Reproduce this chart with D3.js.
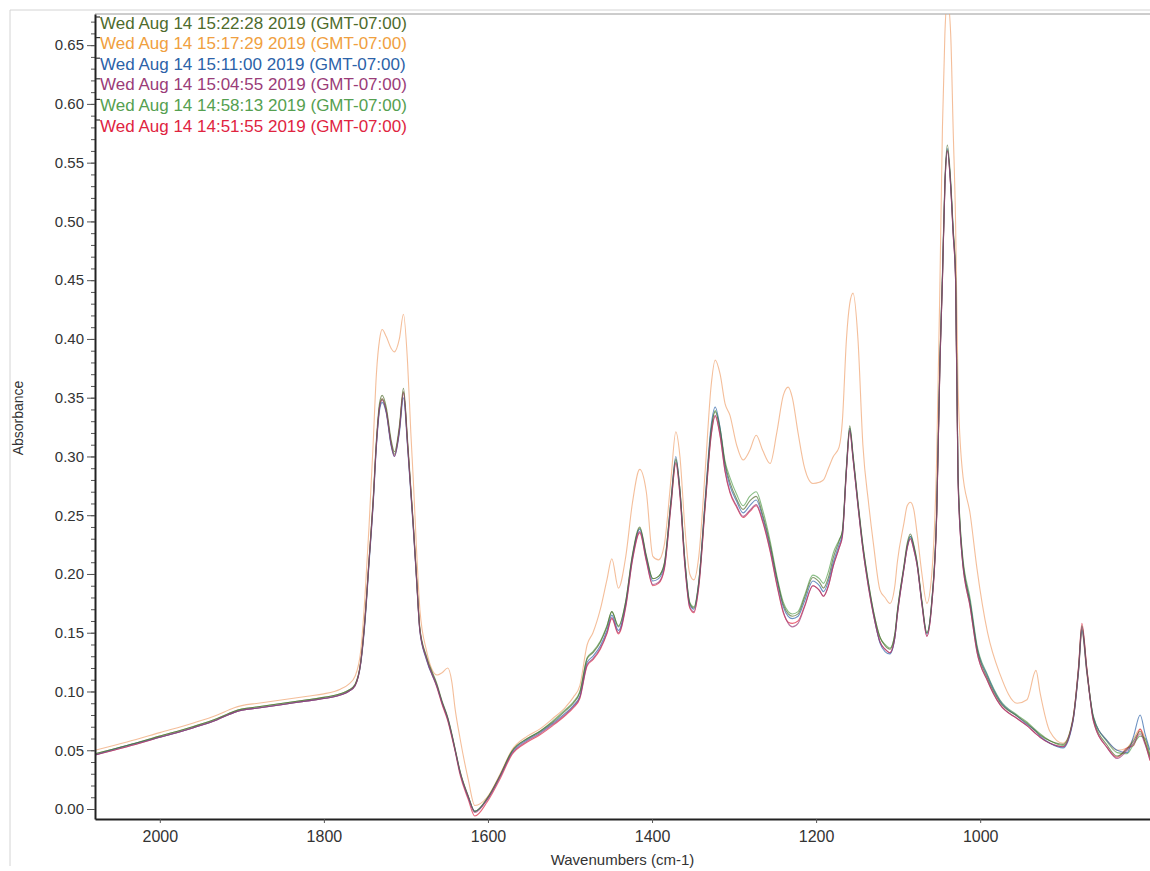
<!DOCTYPE html>
<html>
<head>
<meta charset="utf-8">
<script src="https://cdn.jsdelivr.net/npm/d3@7"></script>
<style>
  body { margin: 0; background: #fff; }
  svg { display: block; }
</style>
</head>
<body>
<div id="chart"></div>
<script>
// wavenumbers (cm-1), shared by every spectrum
const wavenumbers = [
  2079, 2040, 2000, 1960, 1930, 1910, 1900, 1880, 1850, 1820,
  1800, 1780, 1770, 1762, 1755, 1750, 1745, 1740, 1736, 1732,
  1729, 1724, 1718, 1714, 1708, 1703, 1698, 1694, 1691, 1687,
  1683, 1675, 1662, 1656, 1649, 1644, 1640, 1634, 1624, 1616,
  1601, 1585, 1571, 1552, 1537, 1521, 1505, 1496, 1488, 1479,
  1472, 1463, 1455, 1449, 1441, 1432, 1424, 1415, 1407, 1399,
  1392, 1385, 1377, 1371, 1366, 1360, 1354, 1349, 1343, 1335,
  1328, 1323, 1317, 1311, 1305, 1297, 1289, 1281, 1273, 1265,
  1256, 1248, 1240, 1234, 1229, 1222, 1214, 1204, 1196, 1191,
  1185, 1179, 1172, 1168, 1163, 1159, 1155, 1149, 1143, 1136,
  1130, 1122, 1116, 1110, 1104, 1101, 1093, 1089, 1085, 1081,
  1077, 1071, 1065, 1059, 1053, 1049, 1046, 1043, 1040, 1036,
  1033, 1030, 1027, 1022, 1012, 1004, 991, 976, 955, 943,
  932, 927, 915, 899, 887, 880, 876, 870, 862, 845,
  833, 821, 813, 805, 799, 793
];

// absorbance, one array per run
const run152228 = [
  0.047, 0.054, 0.062, 0.070, 0.077, 0.083, 0.085, 0.087, 0.090, 0.093,
  0.095, 0.098, 0.101, 0.106, 0.126, 0.162, 0.212, 0.263, 0.314, 0.346,
  0.352, 0.342, 0.314, 0.304, 0.326, 0.358, 0.314, 0.273, 0.243, 0.197,
  0.154, 0.130, 0.106, 0.092, 0.078, 0.064, 0.051, 0.032, 0.011, -0.002,
  0.009, 0.029, 0.049, 0.060, 0.066, 0.074, 0.084, 0.090, 0.099, 0.128,
  0.133, 0.142, 0.155, 0.168, 0.155, 0.177, 0.216, 0.240, 0.216, 0.196,
  0.198, 0.209, 0.262, 0.298, 0.272, 0.212, 0.175, 0.171, 0.193, 0.263,
  0.322, 0.338, 0.322, 0.294, 0.278, 0.264, 0.255, 0.262, 0.266, 0.250,
  0.225, 0.197, 0.174, 0.166, 0.164, 0.166, 0.180, 0.197, 0.193, 0.188,
  0.197, 0.214, 0.228, 0.237, 0.292, 0.326, 0.302, 0.262, 0.225, 0.192,
  0.168, 0.146, 0.139, 0.136, 0.149, 0.168, 0.207, 0.226, 0.234, 0.225,
  0.211, 0.177, 0.150, 0.177, 0.254, 0.385, 0.455, 0.535, 0.565, 0.535,
  0.495, 0.455, 0.285, 0.218, 0.174, 0.137, 0.111, 0.091, 0.079, 0.073,
  0.066, 0.063, 0.058, 0.055, 0.077, 0.121, 0.156, 0.119, 0.077, 0.054,
  0.045, 0.051, 0.058, 0.066, 0.057, 0.044
];
const run151729 = [
  0.050, 0.057, 0.065, 0.073, 0.080, 0.086, 0.088, 0.090, 0.093, 0.096,
  0.098, 0.102, 0.106, 0.113, 0.135, 0.180, 0.240, 0.310, 0.370, 0.400,
  0.408, 0.402, 0.392, 0.389, 0.400, 0.421, 0.380, 0.320, 0.280, 0.220,
  0.170, 0.135, 0.114, 0.116, 0.120, 0.108, 0.085, 0.060, 0.025, 0.003,
  0.010, 0.030, 0.050, 0.062, 0.068, 0.077, 0.087, 0.095, 0.105, 0.140,
  0.150, 0.170, 0.195, 0.213, 0.188, 0.215, 0.260, 0.289, 0.270, 0.215,
  0.212, 0.225, 0.280, 0.321, 0.300, 0.240, 0.200, 0.195, 0.215, 0.290,
  0.360, 0.382, 0.370, 0.345, 0.335, 0.310, 0.297, 0.305, 0.318, 0.305,
  0.294, 0.320, 0.352, 0.359, 0.350, 0.320, 0.290, 0.277, 0.278, 0.280,
  0.290, 0.300, 0.308, 0.330, 0.400, 0.430, 0.439, 0.400, 0.310, 0.260,
  0.225, 0.186, 0.180, 0.175, 0.190, 0.210, 0.243, 0.258, 0.261, 0.255,
  0.235, 0.200, 0.175, 0.200, 0.300, 0.450, 0.580, 0.660, 0.690, 0.660,
  0.580, 0.500, 0.360, 0.290, 0.250, 0.205, 0.150, 0.115, 0.090, 0.093,
  0.118, 0.099, 0.066, 0.056, 0.075, 0.118, 0.150, 0.115, 0.078, 0.058,
  0.050, 0.052, 0.060, 0.068, 0.060, 0.045
];
const run151100 = [
  0.046, 0.054, 0.061, 0.069, 0.076, 0.082, 0.084, 0.086, 0.089, 0.092,
  0.094, 0.097, 0.100, 0.105, 0.124, 0.158, 0.208, 0.258, 0.308, 0.340,
  0.346, 0.337, 0.309, 0.300, 0.320, 0.350, 0.308, 0.268, 0.238, 0.194,
  0.151, 0.127, 0.104, 0.091, 0.077, 0.063, 0.050, 0.031, 0.010, -0.002,
  0.008, 0.028, 0.048, 0.059, 0.065, 0.073, 0.082, 0.088, 0.096, 0.125,
  0.130, 0.139, 0.152, 0.165, 0.152, 0.175, 0.214, 0.238, 0.214, 0.194,
  0.196, 0.207, 0.262, 0.300, 0.271, 0.211, 0.174, 0.170, 0.193, 0.266,
  0.326, 0.342, 0.324, 0.292, 0.275, 0.262, 0.252, 0.258, 0.263, 0.248,
  0.223, 0.196, 0.172, 0.164, 0.162, 0.164, 0.177, 0.194, 0.190, 0.185,
  0.194, 0.210, 0.225, 0.234, 0.290, 0.324, 0.300, 0.260, 0.223, 0.190,
  0.166, 0.141, 0.134, 0.132, 0.146, 0.166, 0.205, 0.223, 0.232, 0.223,
  0.209, 0.175, 0.149, 0.176, 0.252, 0.382, 0.452, 0.532, 0.562, 0.532,
  0.492, 0.452, 0.282, 0.216, 0.175, 0.138, 0.113, 0.092, 0.079, 0.072,
  0.066, 0.062, 0.056, 0.052, 0.074, 0.118, 0.152, 0.117, 0.078, 0.058,
  0.050, 0.048, 0.062, 0.080, 0.064, 0.050
];
const run150455 = [
  0.046, 0.053, 0.061, 0.069, 0.076, 0.082, 0.084, 0.086, 0.089, 0.092,
  0.094, 0.097, 0.100, 0.105, 0.125, 0.160, 0.210, 0.260, 0.310, 0.342,
  0.348, 0.338, 0.310, 0.300, 0.322, 0.354, 0.310, 0.270, 0.240, 0.195,
  0.152, 0.128, 0.104, 0.090, 0.076, 0.062, 0.050, 0.031, 0.010, -0.003,
  0.008, 0.028, 0.047, 0.058, 0.064, 0.072, 0.081, 0.087, 0.095, 0.123,
  0.128, 0.137, 0.150, 0.163, 0.150, 0.173, 0.212, 0.236, 0.212, 0.191,
  0.193, 0.205, 0.258, 0.295, 0.268, 0.208, 0.172, 0.168, 0.190, 0.260,
  0.318, 0.335, 0.318, 0.288, 0.270, 0.258, 0.249, 0.254, 0.259, 0.245,
  0.220, 0.192, 0.168, 0.158, 0.155, 0.158, 0.172, 0.190, 0.186, 0.181,
  0.190, 0.207, 0.222, 0.232, 0.288, 0.322, 0.298, 0.258, 0.221, 0.188,
  0.165, 0.142, 0.136, 0.133, 0.146, 0.165, 0.204, 0.222, 0.230, 0.221,
  0.208, 0.174, 0.147, 0.174, 0.250, 0.380, 0.450, 0.530, 0.560, 0.530,
  0.490, 0.450, 0.280, 0.214, 0.171, 0.134, 0.109, 0.089, 0.077, 0.071,
  0.064, 0.061, 0.056, 0.053, 0.075, 0.120, 0.155, 0.118, 0.075, 0.052,
  0.043, 0.050, 0.056, 0.064, 0.055, 0.042
];
const run145813 = [
  0.047, 0.054, 0.062, 0.070, 0.077, 0.083, 0.085, 0.087, 0.090, 0.093,
  0.095, 0.098, 0.101, 0.106, 0.125, 0.160, 0.210, 0.261, 0.311, 0.343,
  0.349, 0.339, 0.311, 0.302, 0.323, 0.355, 0.311, 0.271, 0.241, 0.196,
  0.153, 0.129, 0.105, 0.091, 0.077, 0.063, 0.051, 0.032, 0.011, -0.002,
  0.009, 0.029, 0.049, 0.060, 0.066, 0.075, 0.085, 0.091, 0.100, 0.129,
  0.134, 0.143, 0.156, 0.168, 0.156, 0.177, 0.215, 0.239, 0.215, 0.196,
  0.198, 0.209, 0.260, 0.297, 0.271, 0.212, 0.176, 0.172, 0.194, 0.263,
  0.322, 0.339, 0.324, 0.296, 0.282, 0.268, 0.258, 0.266, 0.270, 0.254,
  0.228, 0.199, 0.176, 0.168, 0.166, 0.168, 0.182, 0.199, 0.196, 0.192,
  0.202, 0.218, 0.229, 0.236, 0.290, 0.324, 0.300, 0.260, 0.224, 0.191,
  0.168, 0.146, 0.140, 0.137, 0.149, 0.168, 0.206, 0.224, 0.232, 0.224,
  0.210, 0.176, 0.150, 0.177, 0.253, 0.383, 0.453, 0.532, 0.561, 0.532,
  0.493, 0.454, 0.286, 0.220, 0.178, 0.140, 0.114, 0.093, 0.080, 0.074,
  0.067, 0.064, 0.058, 0.054, 0.075, 0.119, 0.153, 0.117, 0.079, 0.057,
  0.048, 0.047, 0.055, 0.062, 0.060, 0.046
];
const run145155 = [
  0.046, 0.053, 0.061, 0.069, 0.076, 0.082, 0.084, 0.086, 0.089, 0.092,
  0.094, 0.097, 0.100, 0.105, 0.125, 0.161, 0.211, 0.261, 0.311, 0.343,
  0.349, 0.339, 0.311, 0.301, 0.323, 0.355, 0.311, 0.271, 0.241, 0.196,
  0.152, 0.128, 0.103, 0.089, 0.075, 0.061, 0.049, 0.029, 0.008, -0.006,
  0.006, 0.026, 0.046, 0.057, 0.063, 0.071, 0.080, 0.086, 0.094, 0.122,
  0.127, 0.136, 0.149, 0.162, 0.149, 0.172, 0.211, 0.235, 0.211, 0.190,
  0.192, 0.204, 0.257, 0.294, 0.267, 0.207, 0.171, 0.167, 0.189, 0.259,
  0.317, 0.334, 0.317, 0.287, 0.269, 0.257, 0.248, 0.253, 0.258, 0.244,
  0.219, 0.191, 0.167, 0.159, 0.158, 0.160, 0.173, 0.190, 0.186, 0.181,
  0.190, 0.207, 0.222, 0.232, 0.288, 0.322, 0.298, 0.258, 0.221, 0.188,
  0.165, 0.142, 0.136, 0.133, 0.146, 0.165, 0.204, 0.222, 0.230, 0.221,
  0.208, 0.174, 0.147, 0.174, 0.250, 0.380, 0.450, 0.530, 0.560, 0.530,
  0.490, 0.450, 0.280, 0.214, 0.171, 0.134, 0.109, 0.089, 0.077, 0.071,
  0.064, 0.061, 0.056, 0.053, 0.076, 0.122, 0.158, 0.120, 0.075, 0.052,
  0.044, 0.052, 0.054, 0.068, 0.056, 0.041
];

const legendLabels = [
  "Wed Aug 14 15:22:28 2019 (GMT-07:00)",
  "Wed Aug 14 15:17:29 2019 (GMT-07:00)",
  "Wed Aug 14 15:11:00 2019 (GMT-07:00)",
  "Wed Aug 14 15:04:55 2019 (GMT-07:00)",
  "Wed Aug 14 14:58:13 2019 (GMT-07:00)",
  "Wed Aug 14 14:51:55 2019 (GMT-07:00)"
];
const runs = [run152228, run151729, run151100, run150455, run145813, run145155];
const colors = ["#4e6b2c", "#f0a040", "#2c62a8", "#9a3c78", "#55a050", "#e0243f"];
const drawOrder = [1, 5, 4, 2, 0, 3];

const yTickValues = [0, 0.05, 0.10, 0.15, 0.20, 0.25, 0.30, 0.35, 0.40, 0.45, 0.50, 0.55, 0.60, 0.65];
const xTickValues = [2000, 1800, 1600, 1400, 1200, 1000];

const width = 1150, height = 871;
const plot = { left: 95, top: 14, right: 1150, bottom: 819 };

const svg = d3.select("#chart").append("svg")
  .attr("width", width)
  .attr("height", height);

// faint scan frame
svg.append("path")
  .attr("d", `M10,${height - 5} L10,10 L${width},10`)
  .attr("fill", "none")
  .attr("stroke", "#d4d4d4")
  .attr("stroke-width", 1);

const x = d3.scaleLinear()
  .domain([2079, 793])
  .range([plot.left, plot.right]);

const y = d3.scaleLinear()
  .domain([-0.0085, 0.6765])
  .range([plot.bottom, plot.top]);

svg.append("defs").append("clipPath")
  .attr("id", "clip")
  .append("rect")
  .attr("x", plot.left)
  .attr("y", plot.top)
  .attr("width", plot.right - plot.left)
  .attr("height", plot.bottom - plot.top);

// top border of the plot
svg.append("line")
  .attr("x1", plot.left).attr("x2", plot.right)
  .attr("y1", plot.top).attr("y2", plot.top)
  .attr("stroke", "#9a9a9a")
  .attr("stroke-width", 1);

const line = d3.line()
  .x((d, i) => x(wavenumbers[i]))
  .y(d => y(d))
  .curve(d3.curveMonotoneX);

const lines = svg.append("g").attr("clip-path", "url(#clip)");
drawOrder.forEach(k => {
  lines.append("path")
    .datum(runs[k])
    .attr("fill", "none")
    .attr("stroke", k === 1 ? "#f0a878" : colors[k])
    .attr("stroke-opacity", k === 1 ? 0.75 : 0.7)
    .attr("stroke-width", 1.1)
    .attr("stroke-linejoin", "round")
    .attr("d", line);
});

// y axis: minor ticks then labelled ticks
const minorY = d3.range(0, 0.6751, 0.01);
svg.append("g")
  .attr("transform", `translate(${plot.left},0)`)
  .call(d3.axisLeft(y).tickValues(minorY).tickSize(4).tickFormat(""))
  .call(g => g.select(".domain").remove())
  .call(g => g.selectAll("line").attr("stroke", "#555"));

const yAxis = svg.append("g")
  .attr("transform", `translate(${plot.left},0)`)
  .call(d3.axisLeft(y).tickValues(yTickValues).tickSize(8).tickSizeOuter(0).tickPadding(3)
    .tickFormat(d3.format(".2f")));
yAxis.select(".domain").attr("stroke", "#222").attr("stroke-width", 2);
yAxis.selectAll(".tick line").attr("stroke", "#555");
yAxis.selectAll("text")
  .attr("font-family", "Liberation Sans, Arial, sans-serif")
  .attr("font-size", 15)
  .attr("fill", "#333");

// x axis
const xAxis = svg.append("g")
  .attr("transform", `translate(0,${plot.bottom})`)
  .call(d3.axisBottom(x).tickValues(xTickValues).tickSize(4).tickSizeOuter(0).tickPadding(8)
    .tickFormat(d3.format("d")));
xAxis.select(".domain").attr("stroke", "#222").attr("stroke-width", 2);
xAxis.selectAll(".tick line").attr("stroke", "#555");
xAxis.selectAll("text")
  .attr("font-family", "Liberation Sans, Arial, sans-serif")
  .attr("font-size", 16)
  .attr("fill", "#333");

// axis titles
svg.append("text")
  .attr("x", (plot.left + plot.right) / 2)
  .attr("y", 865)
  .attr("text-anchor", "middle")
  .attr("font-family", "Liberation Sans, Arial, sans-serif")
  .attr("font-size", 15)
  .attr("fill", "#333")
  .text("Wavenumbers (cm-1)");

svg.append("text")
  .attr("transform", "translate(23,418) rotate(-90)")
  .attr("text-anchor", "middle")
  .attr("font-family", "Liberation Sans, Arial, sans-serif")
  .attr("font-size", 14)
  .attr("fill", "#333")
  .text("Absorbance");

// legend, top left inside the plot
const legend = svg.append("g");
legendLabels.forEach((label, i) => {
  const cy = 23 + i * 20.6;
  legend.append("line")
    .attr("x1", 96).attr("x2", 100)
    .attr("y1", cy - 6).attr("y2", cy - 6)
    .attr("stroke", "#333")
    .attr("stroke-width", 1.2);
  legend.append("text")
    .attr("x", 100)
    .attr("y", cy)
    .attr("dominant-baseline", "central")
    .attr("font-family", "Liberation Sans, Arial, sans-serif")
    .attr("font-size", 17)
    .attr("fill", colors[i])
    .text(label);
});
</script>
</body>
</html>
